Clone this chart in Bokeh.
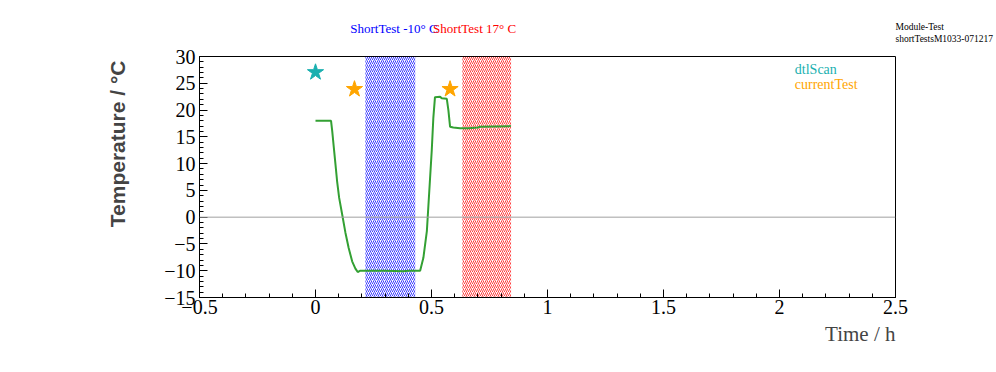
import numpy as np
from bokeh.plotting import figure
from bokeh.layouts import column
from bokeh.models import (Range1d, SingleIntervalTicker, FixedTicker, Span, Label, Title,
                          LinearAxis)
from bokeh.core.properties import value
from bokeh.embed import file_html
from bokeh.resources import INLINE

# --- data ---
time_h = [0.0, 0.067, 0.072, 0.079, 0.086, 0.093, 0.102, 0.115, 0.129, 0.143, 0.158,
          0.172, 0.182, 0.193, 0.30, 0.379, 0.40, 0.451, 0.465, 0.48, 0.487, 0.494,
          0.501, 0.508, 0.515, 0.537, 0.544, 0.566, 0.573, 0.58, 0.594, 0.623, 0.66,
          0.70, 0.71, 0.842]
temperature = [18.0, 18.0, 16.1, 13.0, 9.9, 6.75, 3.6, 0.5, -2.9, -5.75, -8.25,
               -9.6, -10.25, -10.0, -10.0, -10.1, -10.0, -10.0, -7.6, -2.6, 2.4, 7.4,
               12.4, 18.6, 22.4, 22.5, 22.2, 22.1, 19.9, 16.9, 16.75, 16.6, 16.6,
               16.75, 16.9, 17.0]

dtl_time = [0.0]
dtl_temp = [27.05]
cur_time = [0.168, 0.58]
cur_temp = [23.9, 23.9]

band_names = ["ShortTest -10\u00b0 C", "ShortTest 17\u00b0 C"]
band_start = [0.215, 0.633]
band_end = [0.43, 0.843]
band_colors = ["blue", "red"]
band_label_x = [0.150, 0.507]

info_lines = ["Module-Test", "shortTestsM1033-071217"]

x_min, x_max = -0.5, 2.5
y_min, y_max = -15, 30
x_ticks_major = 0.5
y_ticks_major = 5

SERIF = "Liberation Serif"
SANS = "Liberation Sans"

W = 996
TOP_H = 44

# ---- main plot ----
p = figure(width=W, height=372 - TOP_H, output_backend="svg", toolbar_location=None,
           x_range=Range1d(x_min, x_max), y_range=Range1d(y_min, y_max),
           min_border_left=199, min_border_right=99, min_border_top=56 - TOP_H,
           min_border_bottom=75)
p.grid.visible = False
p.outline_line_color = "black"
p.outline_line_width = 1
p.background_fill_color = "white"
p.border_fill_color = "white"

# ---- top strip for the texts above the frame (frame aligned with p) ----
top = figure(width=W, height=TOP_H, output_backend="svg", toolbar_location=None,
             x_range=p.x_range, y_range=Range1d(TOP_H, 0), x_axis_type=None,
             y_axis_type=None, min_border=0, min_border_top=0, min_border_bottom=0)
top.grid.visible = False
top.outline_line_color = None
top.border_fill_color = "white"
top.text(x=band_label_x, y=[27.5, 27.5], text=band_names, text_color=band_colors,
         text_font=value(SERIF), text_font_size="13px", text_align="left",
         text_baseline="middle")
info_axis = LinearAxis(ticker=FixedTicker(ticks=[26, 38.5], minor_ticks=[]),
                       major_label_overrides={26: info_lines[0], 38.5: info_lines[1]},
                       axis_line_color=None, major_tick_line_color=None,
                       minor_tick_line_color=None, major_tick_in=0, major_tick_out=0,
                       major_label_standoff=0, major_label_text_font=SERIF,
                       major_label_text_font_size="9.5px", major_label_text_color="black")
top.add_layout(info_axis, "right")

# bands
for s, e, c in zip(band_start, band_end, band_colors):
    p.quad(left=[s], right=[e], bottom=[y_min], top=[y_max], fill_alpha=0, line_alpha=0,
           hatch_pattern="right_diagonal_line", hatch_color=c, hatch_scale=4,
           hatch_weight=0.9, hatch_alpha=0.85)

p.add_layout(Span(location=0, dimension="width", line_color="#a0a0a0", line_width=1))

p.line(time_h, temperature, line_color="#33a033", line_width=2)
p.scatter(dtl_time, dtl_temp, marker="star", size=17, fill_color="#1ab0b0", line_color="#1ab0b0")
p.scatter(cur_time, cur_temp, marker="star", size=17, fill_color="#ffa500", line_color="#ffa500")

# axes
for ax, tick in ((p.xaxis[0], x_ticks_major), (p.yaxis[0], y_ticks_major)):
    ax.ticker = SingleIntervalTicker(interval=tick, num_minor_ticks=5)
    ax.major_tick_in = 8
    ax.major_tick_out = 0
    ax.minor_tick_in = 4
    ax.minor_tick_out = 0
    ax.axis_line_color = "black"
    ax.major_label_text_font = SERIF
    ax.major_label_text_font_size = "20px"
    ax.major_label_text_color = "black"
p.xaxis.major_label_standoff = 2
p.yaxis.major_label_standoff = 4

# axis titles
p.add_layout(Title(text="Time / h", align="right", text_font=SERIF,
                   text_font_size="21px", text_font_style="normal", standoff=7), "below")
p.add_layout(Title(text="Temperature / \u00b0C", align="right", text_font=SANS,
                   text_font_size="21px", text_font_style="bold", standoff=65,
                   offset=4), "left")

# legend texts
p.add_layout(Label(x=2.066, y=27.55, text="dtlScan", text_color="#1ab0b0", text_font=SERIF,
                   text_font_size="14px", text_baseline="middle"))
p.add_layout(Label(x=2.066, y=24.8, text="currentTest", text_color="#ffa500", text_font=SERIF,
                   text_font_size="14px", text_baseline="middle"))

layout = column(top, p, spacing=0)
open("out.html", "w").write(file_html(layout, INLINE))
